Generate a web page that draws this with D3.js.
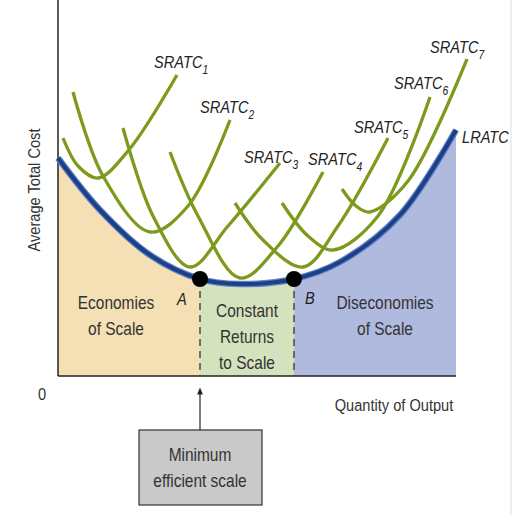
<!DOCTYPE html>
<html>
<head>
<script src="https://cdn.jsdelivr.net/npm/d3@7"></script>
<style>
body{margin:0;background:#fff;}
text{font-family:"Liberation Sans",Arial,sans-serif;}
</style>
</head>
<body>
<script>
// chart units: x 0..398 across the plot, y 0..376 up from the axis
var lratc = [[0,218],[42,166],[92,121],[142,97],[182,92],[236,97],[282,114],[342,161],[398,246]];
var sratc = [
  [[5,238],[20,210],[40,198],[70,225],[119,301]],
  [[15,284],[45,200],[92,144],[130,170],[172,256]],
  [[65,248],[95,160],[132,109],[170,150],[222,213]],
  [[112,224],[140,160],[182,98],[220,130],[265,204]],
  [[177,173],[205,136],[245,109],[280,150],[330,238]],
  [[224,173],[250,140],[275,126],[320,160],[372,279]],
  [[284,187],[298,170],[312,164],[350,195],[409,317]]
];
var sratcLabels = ["1","2","3","4","5","6","7"];
var labelPos = [[96,63],[142,108],[186,158],[250,160],[296,128],[336,84],[372,48]];
var pointA = 142, pointB = 236;

var W = 530, H = 515;
var svg = d3.select("body").append("svg").attr("width", W).attr("height", H);
var x = d3.scaleLinear().domain([0,398]).range([58,456]);
var y = d3.scaleLinear().domain([0,376]).range([376,0]);

var line = d3.line().x(d=>x(d[0])).y(d=>y(d[1])).curve(d3.curveCatmullRom);
var lrPath = svg.append("path").attr("d", line(lratc)).attr("fill","none").node();
function lrY(xv){
  var len = lrPath.getTotalLength(), lo=0, hi=len;
  for (var i=0;i<30;i++){var m=(lo+hi)/2; if (lrPath.getPointAtLength(m).x < x(xv)) lo=m; else hi=m;}
  return y.invert(lrPath.getPointAtLength(lo).y);
}
lrPath.remove();
var fills = [[0,pointA,"#f5dfb4"],[pointA,pointB,"#d4e2bd"],[pointB,398,"#b0badf"]];
fills.forEach(function(f){
  var pts = d3.range(f[0],f[1]+0.01,2).map(v=>[v,lrY(v)]);
  if (pts[pts.length-1][0]!==f[1]) pts.push([f[1],lrY(f[1])]);
  svg.append("path").attr("d", d3.area().x(d=>x(d[0])).y0(y(0)).y1(d=>y(d[1]))(pts)).attr("fill",f[2]);
});

svg.append("line").attr("x1",58).attr("x2",58).attr("y1",0).attr("y2",y(0)).attr("stroke","#222").attr("stroke-width",1.5);
svg.append("line").attr("x1",58).attr("x2",x(398)).attr("y1",y(0)).attr("y2",y(0)).attr("stroke","#222").attr("stroke-width",1.5);
svg.append("line").attr("x1",511).attr("x2",511).attr("y1",0).attr("y2",H).attr("stroke","#ddd");

[pointA,pointB].forEach(function(p){
  svg.append("line").attr("x1",x(p)).attr("x2",x(p)).attr("y1",y(lrY(p))).attr("y2",y(0))
    .attr("stroke","#333").attr("stroke-width",1.3).attr("stroke-dasharray","7,5");
});

svg.append("path").attr("d",line(lratc)).attr("fill","none").attr("stroke","#5f82c2").attr("stroke-width",6.5);
svg.append("path").attr("d",line(lratc)).attr("fill","none").attr("stroke","#1c3f8a").attr("stroke-width",4);

sratc.forEach(function(c){
  svg.append("path").attr("d", d3.line().x(d=>x(d[0])).y(d=>y(d[1])).curve(d3.curveCatmullRom.alpha(0.5))(c))
    .attr("fill","none").attr("stroke","#7d9a1c").attr("stroke-width",3.3);
});

[pointA,pointB].forEach(function(p){
  svg.append("circle").attr("cx",x(p)).attr("cy",y(lrY(p))).attr("r",8).attr("fill","#000");
});

// condensed text helper
function ctext(px, py, size, opts){
  opts = opts || {};
  var g = svg.append("g").attr("transform","translate("+px+","+py+")"+(opts.rot?" rotate("+opts.rot+")":"")+" scale(0.86,1)");
  return g.append("text").attr("font-size",size).attr("fill",opts.fill||"#333")
    .attr("text-anchor",opts.anchor||"start").attr("font-style",opts.italic?"italic":"normal");
}

sratcLabels.forEach(function(s,i){
  var t = ctext(x(labelPos[i][0]), labelPos[i][1]+5, 17, {italic:true, fill:"#222"});
  t.append("tspan").text("SRATC");
  t.append("tspan").attr("font-size",12).attr("dy",6).text(s);
});
ctext(462,143,17,{italic:true,fill:"#222"}).text("LRATC");
ctext(177,305,17,{italic:true,fill:"#222"}).text("A");
ctext(305,304,17,{italic:true,fill:"#222"}).text("B");

function block(lines, cx, y0){
  lines.forEach(function(l,i){
    ctext(cx, y0+i*26, 18, {anchor:"middle"}).text(l);
  });
}
block(["Economies","of Scale"],116,309);
block(["Constant","Returns","to Scale"],247,317);
block(["Diseconomies","of Scale"],385,309);

ctext(40,190,17,{rot:-90,anchor:"middle"}).text("Average Total Cost");
ctext(38,400,17).text("0");
ctext(394,411,17,{anchor:"middle"}).text("Quantity of Output");

svg.append("defs").append("marker").attr("id","ah").attr("viewBox","0 0 10 10").attr("refX",5).attr("refY",5)
  .attr("markerWidth",6).attr("markerHeight",8).attr("orient","auto")
  .append("path").attr("d","M0,1L10,5L0,9Z").attr("fill","#222");
svg.append("line").attr("x1",x(pointA)).attr("x2",x(pointA)).attr("y1",430).attr("y2",391)
  .attr("stroke","#222").attr("stroke-width",1.2).attr("marker-end","url(#ah)");
svg.append("rect").attr("x",139).attr("y",430).attr("width",123).attr("height",75)
  .attr("fill","#c9c9c9").attr("stroke","#333").attr("stroke-width",1.2);
block(["Minimum","efficient scale"],200,461);
</script>
</body>
</html>
